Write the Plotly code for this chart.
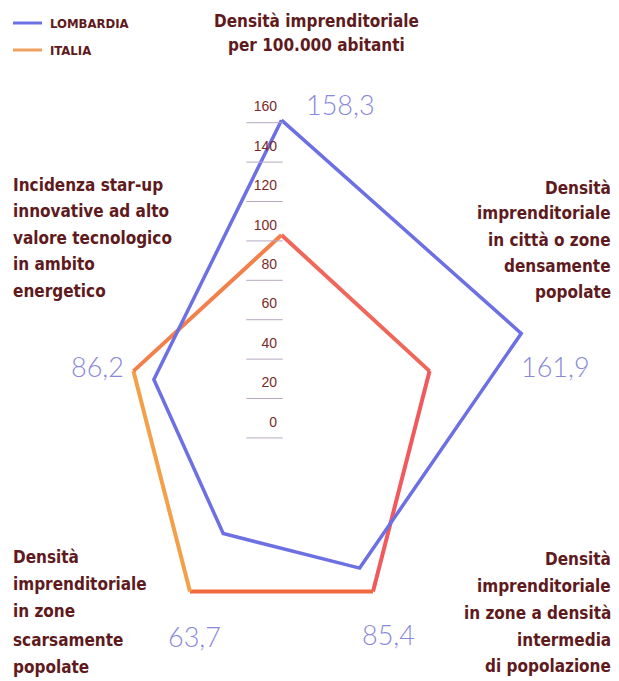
import plotly.graph_objects as go
import math

# ---------------- data ----------------
categories = [
    "Densità imprenditoriale per 100.000 abitanti",
    "Densità imprenditoriale in città o zone densamente popolate",
    "Densità imprenditoriale in zone a densità intermedia di popolazione",
    "Densità imprenditoriale in zone scarsamente popolate",
    "Incidenza star-up innovative ad alto valore tecnologico in ambito energetico",
]
lombardia = [158.3, 161.9, 85.4, 63.7, 86.2]
italia = [100, 100, 100, 100, 100]
lombardia_labels = ["158,3", "161,9", "85,4", "63,7", "86,2"]
tick_vals = [0, 20, 40, 60, 80, 100, 120, 140, 160]
tick_text = [str(v) for v in tick_vals]

# ---------------- layout helpers ----------------
W, H = 619, 681
PAGE_OFF = 8                 # default body margin of the html page
CX, CY = 281.5, 432.0        # pixel centre of the radar (window coords)
SX, SY = 1.557, 1.97         # pixels per unit (print is stretched vertically)

def px2x(p):
    return (p - CX) / SX

def px2y(p):
    return (CY - p) / SY

angles = [math.radians(90 - 72 * i) for i in range(len(categories))]

def polar_xy(values):
    xs = [v * math.cos(a) for v, a in zip(values, angles)]
    ys = [v * math.sin(a) for v, a in zip(values, angles)]
    return xs + xs[:1], ys + ys[:1]

TEXT = "#5e1a1c"
BLUE = "#6c70e2"
VAL = "#8a88d8"
FONT_B = "DejaVu Sans Condensed, Liberation Sans Narrow, Roboto, sans-serif"

fig = go.Figure()

# Italia: edges drawn with slightly different hues (print gradient)
ix, iy = polar_xy(italia)
edge_colors = ["#f0665a", "#f05a5e", "#f2683f", "#f3a04a", "#f2804a"]
for i in range(len(italia)):
    fig.add_trace(go.Scatter(
        x=ix[i:i + 2], y=iy[i:i + 2], mode="lines",
        line=dict(color=edge_colors[i], width=4), hoverinfo="skip", showlegend=False))

# Lombardia
lx, ly = polar_xy(lombardia)
fig.add_trace(go.Scatter(x=lx, y=ly, mode="lines", line=dict(color=BLUE, width=3.5),
                         name="LOMBARDIA", showlegend=False, hoverinfo="skip"))

# scale ticks (labels + short underlines) on the vertical axis
fig.add_trace(go.Scatter(
    x=[px2x(264.5)] * len(tick_vals), y=[v - 3 for v in tick_vals], mode="markers",
    marker=dict(symbol="line-ew", size=26, line=dict(color="#b7a9c0", width=1)),
    hoverinfo="skip", showlegend=False))
fig.add_trace(go.Scatter(
    x=[px2x(277)] * len(tick_vals), y=[v + 4.5 for v in tick_vals], mode="text",
    text=tick_text, textposition="middle left",
    textfont=dict(family="Liberation Sans, Arial, sans-serif", size=14, color="#7a2a2a"),
    hoverinfo="skip", showlegend=False))

annotations = []

# value labels
val_pos = [(340, 104), (555, 366), (388, 634), (194, 636), (97, 366)]
for (px, py), t in zip(val_pos, lombardia_labels):
    annotations.append(dict(x=px2x(px), y=px2y(py), text=t, showarrow=False,
                            font=dict(family="Lato, Liberation Sans, sans-serif", size=27,
                                      color=VAL, weight=300),
                            xanchor="center", yanchor="middle"))

# title (category of top axis)
for t, py in [("Densità imprenditoriale", 21), ("per 100.000 abitanti", 45)]:
    annotations.append(dict(x=px2x(316), y=px2y(py), text="<b>" + t + "</b>", showarrow=False,
                            font=dict(family=FONT_B, size=17, color=TEXT),
                            xanchor="center", yanchor="middle"))

def block(lines, px, ys, anchor):
    for t, py in zip(lines, ys):
        annotations.append(dict(x=px2x(px), y=px2y(py), text="<b>" + t + "</b>", showarrow=False,
                                font=dict(family=FONT_B, size=17, color=TEXT),
                                xanchor=anchor, yanchor="middle"))

block(["Densità", "imprenditoriale", "in città o zone", "densamente", "popolate"],
      613, [188, 213, 240, 266, 292], "right")
block(["Incidenza star-up", "innovative ad alto", "valore tecnologico", "in ambito", "energetico"],
      11, [185, 211, 238, 264, 291], "left")
block(["Densità", "imprenditoriale", "in zone", "scarsamente", "popolate"],
      11, [557, 584, 611, 640, 667], "left")
block(["Densità", "imprenditoriale", "in zone a densità", "intermedia", "di popolazione"],
      613, [559, 586, 613, 640, 666], "right")

# legend (drawn manually)
leg = [("LOMBARDIA", BLUE, 23), ("ITALIA", "#f0a060", 50)]
shapes = []
for name, col, py in leg:
    shapes.append(dict(type="line", xref="x", yref="y", x0=px2x(13), x1=px2x(42),
                       y0=px2y(py), y1=px2y(py), line=dict(color=col, width=3)))
    annotations.append(dict(x=px2x(48), y=px2y(py), text="<b>" + name + "</b>", showarrow=False,
                            font=dict(family=FONT_B, size=13, color=TEXT),
                            xanchor="left", yanchor="middle"))

fig.update_layout(
    width=W - PAGE_OFF, height=H - PAGE_OFF, margin=dict(l=0, r=0, t=0, b=0),
    paper_bgcolor="white", plot_bgcolor="white",
    xaxis=dict(range=[px2x(PAGE_OFF), px2x(W)], visible=False, fixedrange=True),
    yaxis=dict(range=[px2y(H), px2y(PAGE_OFF)], visible=False, fixedrange=True),
    annotations=annotations, shapes=shapes, showlegend=False,
)

fig.write_html("out.html")
